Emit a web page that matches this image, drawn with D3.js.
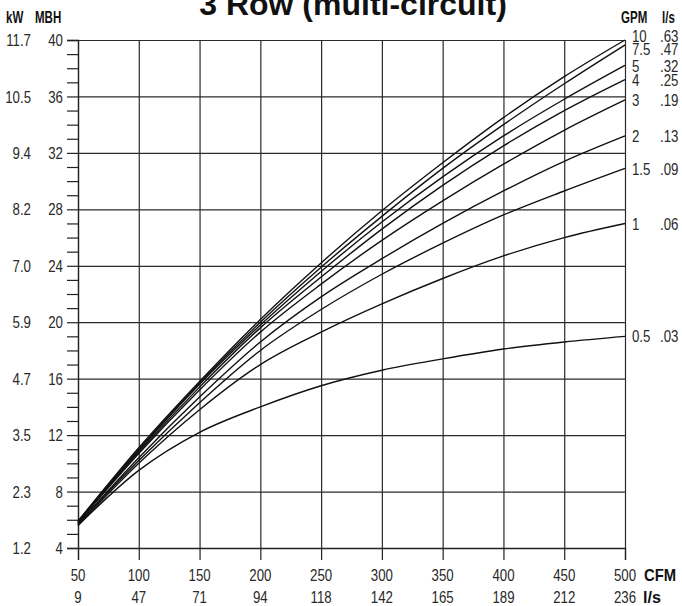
<!DOCTYPE html>
<html>
<head>
<meta charset="utf-8">
<script src="https://cdn.jsdelivr.net/npm/d3@7"></script>
<style>
  html, body { margin: 0; padding: 0; background: #fff; }
  svg { display: block; }
</style>
</head>
<body>
<svg id="chart" width="682" height="606"></svg>
<script>
// ---------- data ----------
const cfm = [50, 100, 150, 200, 250, 300, 350, 400, 450, 500];
const lpsAir = [9, 47, 71, 94, 118, 142, 165, 189, 212, 236];
const mbhTicks = [4, 8, 12, 16, 20, 24, 28, 32, 36, 40];
const kwTicks = ["1.2", "2.3", "3.5", "4.7", "5.9", "7.0", "8.2", "9.4", "10.5", "11.7"];
const gpm = ["10", "7.5", "5", "4", "3", "2", "1.5", "1", "0.5"];
const lpsWater = [".63", ".47", ".32", ".25", ".19", ".13", ".09", ".06", ".03"];
const mbh10  = [5.9, 11.1, 15.8, 20.2, 24.2, 27.9, 31.3, 34.5, 37.4, 40.0];
const mbh7_5 = [5.9, 11.0, 15.7, 20.0, 23.9, 27.5, 30.9, 34.0, 36.9, 39.65];
const mbh5   = [5.85, 10.9, 15.6, 19.8, 23.6, 27.1, 30.3, 33.2, 35.8, 38.2];
const mbh4   = [5.8, 10.8, 15.4, 19.6, 23.2, 26.6, 29.7, 32.5, 35.0, 37.2];
const mbh3   = [5.8, 10.7, 15.2, 19.3, 22.7, 25.8, 28.6, 31.2, 33.6, 35.75];
const mbh2   = [5.7, 10.4, 14.7, 18.6, 21.8, 24.5, 27.0, 29.3, 31.4, 33.2];
const mbh1_5 = [5.7, 10.2, 14.3, 18.0, 20.9, 23.4, 25.6, 27.6, 29.3, 30.9];
const mbh1   = [5.6, 10.0, 13.8, 17.0, 19.3, 21.3, 23.1, 24.7, 26.0, 27.0];
const mbh0_5 = [5.6, 9.5, 12.2, 14.0, 15.5, 16.6, 17.4, 18.1, 18.6, 19.0];
const seriesValues = [mbh10, mbh7_5, mbh5, mbh4, mbh3, mbh2, mbh1_5, mbh1, mbh0_5];

// ---------- layout ----------
const svg = d3.select("#chart");
const L = 78, R = 625, T = 40, B = 548;
const x = d3.scaleLinear().domain([50, 500]).range([L, R]);
const y = d3.scaleLinear().domain([4, 40]).range([B, T]);
const FONT = "'Liberation Sans', Arial, Helvetica, sans-serif";
const txtCol = "#2a2a2a";
const gridCol = "#2b2b2b";

// condensed text helper (horizontal squeeze to mimic Helvetica Condensed)
function ctext(g, xx, yy, str, opt) {
  const o = Object.assign({ size: 17, weight: "normal", anchor: "start", sx: 0.78, fill: txtCol }, opt || {});
  return g.append("text")
    .attr("transform", `translate(${xx},${yy}) scale(${o.sx},1)`)
    .attr("dy", "0.36em")
    .attr("text-anchor", o.anchor)
    .attr("font-family", FONT)
    .attr("font-weight", o.weight)
    .attr("font-size", o.size)
    .attr("fill", o.fill)
    .text(str);
}

// title (cut at top edge as in the original)
svg.append("text")
  .attr("x", 353).attr("y", 15)
  .attr("text-anchor", "middle")
  .attr("font-family", FONT)
  .attr("font-weight", "bold")
  .attr("font-size", 32)
  .attr("fill", "#111")
  .text("3 Row (multi-circuit)");

// grid lines (horizontal)
const gH = svg.append("g").attr("transform", `translate(${L},0)`)
  .call(d3.axisLeft(y).tickValues(mbhTicks).tickSize(-(R - L)).tickFormat(""));
gH.select(".domain").remove();
gH.selectAll("line").attr("stroke", gridCol).attr("stroke-width", 1.2);

// grid lines (vertical)
const gV = svg.append("g").attr("transform", `translate(0,${B})`)
  .call(d3.axisBottom(x).tickValues(cfm).tickSize(-(B - T)).tickFormat(""));
gV.select(".domain").remove();
gV.selectAll("line").attr("stroke", gridCol).attr("stroke-width", 1.2);

// left axis: all ticks (minor every 1 MBH)
const allTicks = d3.range(4, 41, 1);
const gLeft = svg.append("g").attr("transform", `translate(${L},0)`)
  .call(d3.axisLeft(y).tickValues(allTicks).tickSize(11).tickFormat(""));
gLeft.select(".domain").attr("stroke", "#222").attr("stroke-width", 1.3);
gLeft.selectAll("line").attr("stroke", "#222").attr("stroke-width", 1.2);

// bottom axis ticks
const gX = svg.append("g").attr("transform", `translate(0,${B})`)
  .call(d3.axisBottom(x).tickValues(cfm).tickSize(12).tickFormat(""));
gX.select(".domain").attr("stroke", "#222").attr("stroke-width", 1.3);
gX.selectAll("line").attr("stroke", "#222").attr("stroke-width", 1.2);

// tick labels
const gLab = svg.append("g");
mbhTicks.forEach((v, i) => {
  ctext(gLab, 63, y(v), String(v), { anchor: "end" });
  ctext(gLab, 31, y(v), kwTicks[i], { anchor: "end" });
});
cfm.forEach((v, i) => {
  ctext(gLab, x(v), 575, String(v), { anchor: "middle" });
  ctext(gLab, x(v), 597, String(lpsAir[i]), { anchor: "middle" });
});

// unit headers
const hOpt = { weight: "bold", size: 16, sx: 0.72, fill: "#111" };
ctext(gLab, 6, 17, "kW", hOpt);
ctext(gLab, 35, 17, "MBH", hOpt);
ctext(gLab, 621, 17, "GPM", hOpt);
ctext(gLab, 662, 17, "l/s", hOpt);
ctext(gLab, 644, 575, "CFM", Object.assign({}, hOpt, { size: 17, sx: 0.87 }));
ctext(gLab, 643, 597, "l/s", Object.assign({}, hOpt, { size: 17, sx: 0.95 }));

// curves
const line = d3.line()
  .x((d, i) => x(cfm[i]))
  .y(d => y(d))
  .curve(d3.curveMonotoneX);
svg.append("g").selectAll("path").data(seriesValues).join("path")
  .attr("d", d => line(d))
  .attr("fill", "none")
  .attr("stroke", "#111")
  .attr("stroke-width", 1.4);

// right labels, relaxed to avoid overlap
const ends = seriesValues.map(s => y(s[s.length - 1]));
const pos = ends.slice();
const gapMin = 13;
for (let it = 0; it < 80; it++) {
  for (let i = 1; i < pos.length; i++) {
    const gap = pos[i] - pos[i - 1];
    if (gap < gapMin) {
      const d = (gapMin - gap) / 2;
      pos[i - 1] -= d; pos[i] += d;
    }
  }
}
gpm.forEach((g, i) => ctext(gLab, 632, pos[i], g));
lpsWater.forEach((g, i) => ctext(gLab, 660, pos[i], g));
</script>
</body>
</html>
